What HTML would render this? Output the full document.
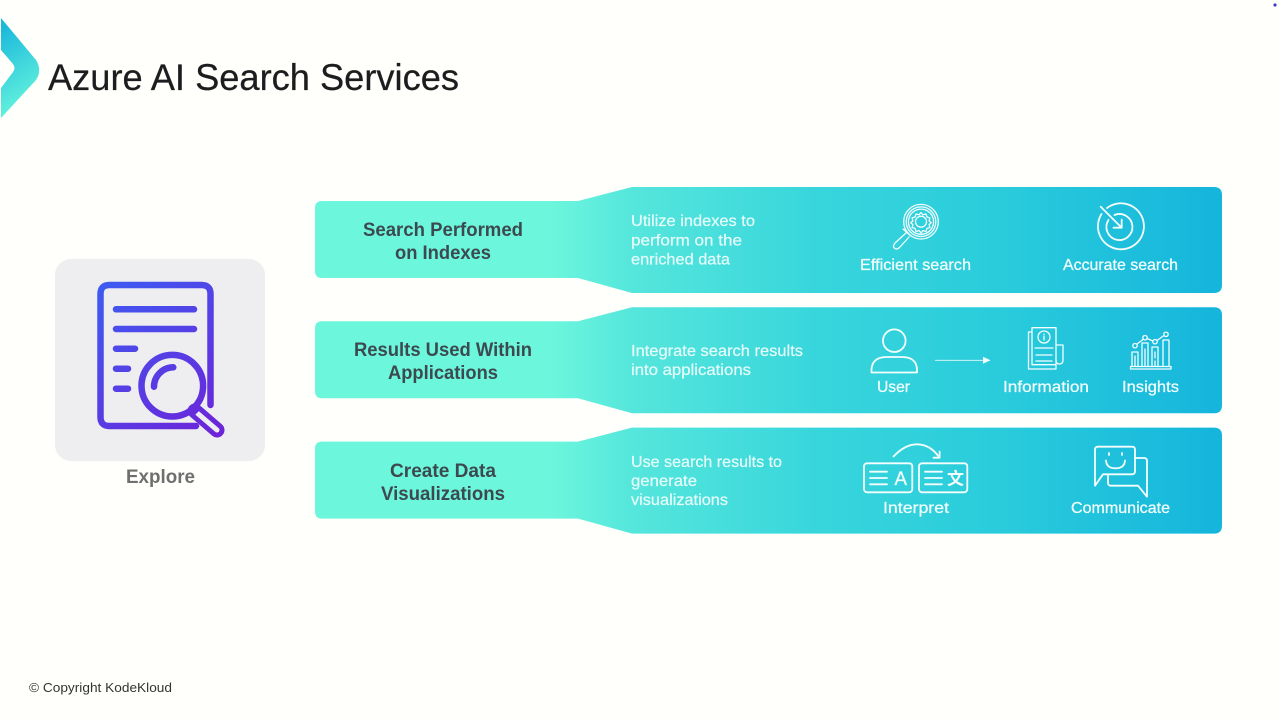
<!DOCTYPE html>
<html lang="en">
<head>
<meta charset="utf-8">
<title>Azure AI Search Services</title>
<style>
html,body{margin:0;padding:0;width:1280px;height:720px;overflow:hidden;background:#fffffc}
svg{display:block}
text{font-family:"Liberation Sans","Noto Sans CJK SC",sans-serif}
.h{font-size:19.5px;font-weight:700;fill:#3c4a50}
.d{font-size:16px;fill:#e6fcfa;stroke:#e6fcfa;stroke-width:.2}
.l{font-size:16px;fill:#f2fefd;stroke:#f2fefd;stroke-width:.25}
.i{fill:none;stroke:#f4fefe;stroke-width:1.8;stroke-linecap:round;stroke-linejoin:round}
.t{fill:none;stroke:#f4fefe;stroke-width:1.3;stroke-linecap:round;stroke-linejoin:round}
</style>
</head>
<body>
<svg width="1280" height="720" viewBox="0 0 1280 720" xmlns="http://www.w3.org/2000/svg">
<defs>
<linearGradient id="band" gradientUnits="userSpaceOnUse" x1="315" y1="0" x2="1222" y2="0">
<stop offset="0" stop-color="#6cf6dc"/>
<stop offset="0.26" stop-color="#6cf6dc"/>
<stop offset="0.35" stop-color="#55e6dc"/>
<stop offset="0.55" stop-color="#38d6dc"/>
<stop offset="0.75" stop-color="#2accdc"/>
<stop offset="1" stop-color="#15b5dc"/>
</linearGradient>
<linearGradient id="logo" gradientUnits="userSpaceOnUse" x1="0" y1="30" x2="42" y2="95">
<stop offset="0" stop-color="#1cb9dc"/>
<stop offset="1" stop-color="#62f2dc"/>
</linearGradient>
<linearGradient id="pur" gradientUnits="userSpaceOnUse" x1="97" y1="282" x2="224" y2="437">
<stop offset="0" stop-color="#3c5cf2"/>
<stop offset="1" stop-color="#6f22d8"/>
</linearGradient>
<path id="shape" d="M322 14 H578 L632 0 H1214 Q1222 0 1222 8 V98 Q1222 106 1214 106 H632 L578 91 H322 Q315 91 315 84 V21 Q315 14 322 14 Z"/>
</defs>

<!-- Logo -->
<path d="M1 18 L36 60 Q42.5 70 36 80 L1 118 V88 L13 72 Q16 68 13 64 L1 50 Z" fill="url(#logo)"/>
<text x="48" y="90" font-size="37" fill="#1d1d1f" stroke="#1d1d1f" stroke-width=".25" textLength="411" lengthAdjust="spacingAndGlyphs">Azure AI Search Services</text>
<circle cx="1275" cy="5" r="1.6" fill="#3f3fd0"/>

<!-- Explore card -->
<rect x="55" y="259" width="210" height="202" rx="16" fill="#eeeef0"/>
<g fill="none" stroke="url(#pur)" stroke-width="6.5" stroke-linecap="round" stroke-linejoin="round">
<path d="M210.5 405 V294 Q210.5 285 201.5 285 H109.5 Q100.5 285 100.5 294 V417 Q100.5 426 109.5 426 H196"/>
<path d="M116 309.3 H194"/>
<path d="M116 329 H194"/>
<path d="M116 348.7 H135"/>
<path d="M116 368.7 H128"/>
<path d="M116 388.7 H128"/>
<circle cx="172.3" cy="385.7" r="30.8"/>
<path d="M154 386.7 A19.5 19.5 0 0 1 173.3 367.3"/>
</g>
<path d="M195 411 L217 430" stroke="url(#pur)" stroke-width="15" stroke-linecap="round" fill="none"/>
<path d="M196 412 L217 430" stroke="#eeeef0" stroke-width="5" stroke-linecap="round" fill="none"/>
<path d="M192 408 L197 413" stroke="url(#pur)" stroke-width="7" fill="none"/>
<text x="126" y="483" font-size="19.5" font-weight="700" fill="#6f6f6f" textLength="69" lengthAdjust="spacingAndGlyphs">Explore</text>

<!-- Row 1 -->
<use href="#shape" y="187" fill="url(#band)"/>
<text class="h" x="363" y="236" textLength="160" lengthAdjust="spacingAndGlyphs">Search Performed</text>
<text class="h" x="395" y="259" textLength="96" lengthAdjust="spacingAndGlyphs">on Indexes</text>
<text class="d" x="631" y="226" textLength="124" lengthAdjust="spacingAndGlyphs">Utilize indexes to</text>
<text class="d" x="631" y="245.5" textLength="111" lengthAdjust="spacingAndGlyphs">perform on the</text>
<text class="d" x="631" y="264.5" textLength="99" lengthAdjust="spacingAndGlyphs">enriched data</text>
<text class="l" x="860" y="270" textLength="111" lengthAdjust="spacingAndGlyphs">Efficient search</text>
<text class="l" x="1063" y="270" textLength="115" lengthAdjust="spacingAndGlyphs">Accurate search</text>
<!-- efficient search icon -->
<g class="t">
<circle cx="921" cy="221.7" r="17.3"/>
<circle cx="921" cy="221.7" r="14.8"/>
<circle cx="921" cy="221.7" r="12.6"/>
<circle cx="921" cy="221.7" r="5.5"/>
<path d="M921 212.5 l2 2.3 3-.8 .9 3 3 .9 -.8 3 2.2 1.8 -2.2 1.8 .8 3 -3 .9 -.9 3 -3-.8 -2 2.3 -2-2.3 -3 .8 -.9-3 -3-.9 .8-3 -2.2-1.8 2.2-1.8 -.8-3 3-.9 .9-3 3 .8 z"/>
<path d="M909 234 L905 230 M911 236 L903 229 M906 233 L895 243 Q892 247 895 248.5 Q897 250 900 247 L909 237"/>
</g>
<!-- accurate search icon -->
<g class="i">
<path d="M1107 208 A23 23 0 1 1 1101.5 214"/>
<path d="M1108.5 220 A13 13 0 1 0 1114.5 215"/>
<path d="M1100.7 206.7 L1121.7 227.7 M1121.7 219.5 V227.7 H1113.5"/>
</g>

<!-- Row 2 -->
<use href="#shape" y="307.2" fill="url(#band)"/>
<text class="h" x="354" y="356" textLength="178" lengthAdjust="spacingAndGlyphs">Results Used Within</text>
<text class="h" x="388" y="379" textLength="110" lengthAdjust="spacingAndGlyphs">Applications</text>
<text class="d" x="631" y="356" textLength="172" lengthAdjust="spacingAndGlyphs">Integrate search results</text>
<text class="d" x="631" y="375" textLength="120" lengthAdjust="spacingAndGlyphs">into applications</text>
<text class="l" x="877" y="392" textLength="33" lengthAdjust="spacingAndGlyphs">User</text>
<text class="l" x="1003" y="392" textLength="86" lengthAdjust="spacingAndGlyphs">Information</text>
<text class="l" x="1122" y="392" textLength="57" lengthAdjust="spacingAndGlyphs">Insights</text>
<!-- user icon -->
<g class="i">
<circle cx="894.3" cy="340.7" r="11.3"/>
<path d="M871.5 372.5 Q870.5 357 887 357 H902 Q918 357 917 372.5 Z"/>
</g>
<!-- arrow -->
<path d="M935 360.3 H983" stroke="#e6fcfa" stroke-width="0.8" fill="none"/>
<path d="M983 356.8 L990.5 360.3 L983 363.8 Z" fill="#f4fefe"/>
<!-- information icon -->
<g class="t">
<rect x="1032" y="327.7" width="24" height="37"/>
<path d="M1032 332 H1028.5 V369 H1056 V364.7"/>
<circle cx="1044" cy="337" r="6"/>
<path d="M1044 336 V340 M1044 334 V334.4"/>
<path d="M1035 348 H1053 M1036 355 H1052 M1036 361 H1052"/>
<path d="M1056 345 H1063 V360 Q1063 364 1059.5 364 Q1056 364 1056 360"/>
</g>
<!-- insights icon -->
<g class="t">
<path d="M1130.5 369 H1171 V366.5 H1130.5 Z"/>
<path d="M1132 366.5 V352 H1138 V366.5 M1142 366.5 V343 H1148 V366.5 M1152 366.5 V347 H1158 V366.5 M1163 366.5 V340 H1169 V366.5"/>
<path d="M1135 356 V366 M1145 349 V366 M1155 352 V358 M1155 361 V366"/>
<path d="M1137 344 L1143 339.5 M1147 338.5 L1153 341 M1157 340.5 L1164 335.5"/>
<circle cx="1135" cy="345.7" r="2.2"/>
<circle cx="1145" cy="337.7" r="2.2"/>
<circle cx="1155" cy="341.7" r="2.2"/>
<circle cx="1166" cy="334.3" r="2.2"/>
</g>

<!-- Row 3 -->
<use href="#shape" y="427.6" fill="url(#band)"/>
<text class="h" x="390" y="477" textLength="106" lengthAdjust="spacingAndGlyphs">Create Data</text>
<text class="h" x="381" y="500" textLength="124" lengthAdjust="spacingAndGlyphs">Visualizations</text>
<text class="d" x="631" y="467" textLength="151" lengthAdjust="spacingAndGlyphs">Use search results to</text>
<text class="d" x="631" y="486" textLength="66" lengthAdjust="spacingAndGlyphs">generate</text>
<text class="d" x="631" y="505" textLength="97" lengthAdjust="spacingAndGlyphs">visualizations</text>
<text class="l" x="883" y="513" textLength="66" lengthAdjust="spacingAndGlyphs">Interpret</text>
<text class="l" x="1071" y="513" textLength="99" lengthAdjust="spacingAndGlyphs">Communicate</text>
<!-- interpret icon -->
<g class="i">
<rect x="864" y="463.3" width="48.3" height="29" rx="3"/>
<rect x="919" y="463.3" width="48.3" height="29" rx="3"/>
<path d="M870 471.7 H887 M870 478 H887 M870 484.3 H887"/>
<path d="M925 471.7 H942 M925 478 H942 M925 484.3 H942"/>
<path d="M893.5 456.5 Q905 444.3 917 444.3 Q930 444.3 939 457"/>
<path d="M933.5 457.7 H939.6 V451.5"/>
</g>
<text x="894.5" y="485" font-size="19" fill="#f4fefe" stroke="#f4fefe" stroke-width=".3" textLength="12.5" lengthAdjust="spacingAndGlyphs">A</text>
<text x="947" y="484.5" font-size="17" font-weight="700" fill="#f4fefe" font-family="'Noto Sans CJK SC',sans-serif">文</text>
<!-- communicate icon -->
<g class="i">
<path d="M1098 446.7 H1132 Q1135 446.7 1135 449.7 V471.3 Q1135 474.3 1132 474.3 H1103 L1095 485.7 V449.7 Q1095 446.7 1098 446.7 Z"/>
<path d="M1135 458 H1144 Q1147 458 1147 461 V496.7 L1138 485.7 H1111 Q1108 485.7 1108 482.7 V474.5"/>
<path d="M1109 453 V455 M1122 453 V455"/>
<path d="M1106 460.5 Q1106.5 468.3 1115.5 468.3 Q1124.5 468.3 1125 460.5"/>
</g>

<text x="29" y="692" font-size="13" fill="#333333" textLength="143" lengthAdjust="spacingAndGlyphs">© Copyright KodeKloud</text>
</svg>
</body>
</html>
